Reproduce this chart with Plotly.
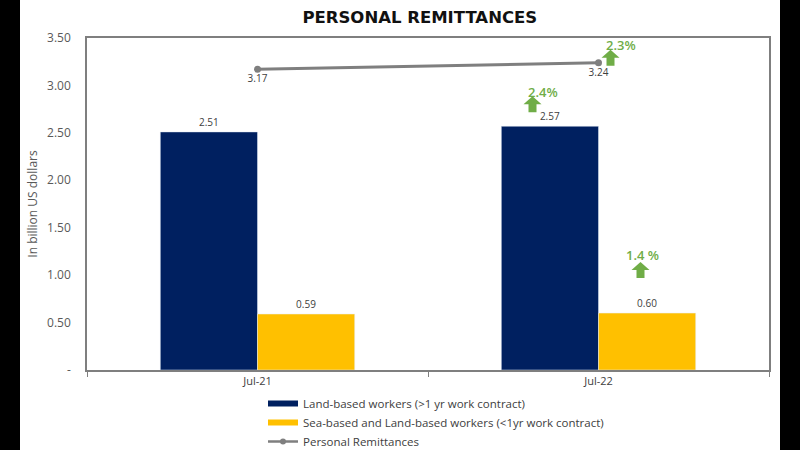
import plotly.graph_objects as go

categories = ["Jul-21", "Jul-22"]
land_based = [2.51, 2.57]
sea_based = [0.59, 0.60]
personal_remittances = [3.17, 3.24]
growth_labels = ["2.4%", "2.3%", "1.4 %"]
y_tickvals = [0, 0.5, 1.0, 1.5, 2.0, 2.5, 3.0, 3.5]
y_ticktext = ["-", "0.50", "1.00", "1.50", "2.00", "2.50", "3.00", "3.50"]
series_names = ["Land-based workers (>1 yr work contract)",
                "Sea-based and Land-based workers (<1yr work contract)",
                "Personal Remittances"]

NAVY = "#002060"
GOLD = "#FFC000"
GREY = "#7F7F7F"
GREEN = "#70AD47"
TXT = "#404040"
FONT = "Open Sans"

fig = go.Figure()
fig.add_trace(go.Bar(
    x=categories, y=land_based, name=series_names[0], showlegend=False,
    marker_color=NAVY, texttemplate="%{y:.2f}", textposition="outside",
    textfont=dict(size=10, color=TXT), cliponaxis=False))
fig.add_trace(go.Bar(
    x=categories, y=sea_based, name=series_names[1], showlegend=False,
    marker_color=GOLD, texttemplate="%{y:.2f}", textposition="outside",
    textfont=dict(size=10, color=TXT), cliponaxis=False))
fig.add_trace(go.Scatter(
    x=categories, y=personal_remittances, name=series_names[2], showlegend=False,
    mode="lines+markers+text", line=dict(color=GREY, width=3),
    marker=dict(color=GREY, size=7), texttemplate="%{y:.2f}",
    textposition="bottom center", textfont=dict(size=10, color=TXT), cliponaxis=False))

# legend entries (wide bar-style swatches like the original)
for name, col, mode in [(series_names[0], NAVY, "lines"), (series_names[1], GOLD, "lines"),
                        (series_names[2], GREY, "lines+markers")]:
    fig.add_trace(go.Scatter(x=[None], y=[None], name=name, mode=mode,
                             line=dict(color=col, width=6 if mode == "lines" else 2.5),
                             marker=dict(color=col, size=6)))

def arrow_path(cx, by):
    hw, sw, hh, sh = 9, 4, 8, 8
    pts = [(cx - sw, by), (cx + sw, by), (cx + sw, by + sh), (cx + hw, by + sh),
           (cx, by + sh + hh), (cx - hw, by + sh), (cx - sw, by + sh)]
    return "M " + " L ".join(f"{x},{y}" for x, y in pts) + " Z"

# (anchor category index, anchor value, arrow centre dx, arrow bottom dy, text dx, text dy)
anchors = [
    (1, land_based[1], -66, 14, -56, 34),
    (1, personal_remittances[1], 12, -3, 22, 18),
    (1, sea_based[1], 42, 35, 44, 58),
]

shapes = []
annotations = []
for (ci, val, adx, ady, tdx, tdy), lab in zip(anchors, growth_labels):
    shapes.append(dict(type="path", xref="x", yref="y", xsizemode="pixel", ysizemode="pixel",
                       xanchor=ci, yanchor=val, path=arrow_path(adx, ady),
                       fillcolor=GREEN, line=dict(width=0)))
    annotations.append(dict(x=categories[ci], y=val, xref="x", yref="y", text=lab,
                            showarrow=False, xshift=tdx, yshift=tdy,
                            font=dict(size=13, color=GREEN, family=FONT, weight=600)))

l, r, t, b = 87, 31, 38, 80
pw, ph = 800 - l - r, 450 - t - b
def px_to_paper_x(p):
    return (p - l) / pw
def px_to_paper_y(p):
    return (450 - b - p) / ph
for x0, x1 in [(0, 20), (780, 800)]:
    shapes.append(dict(type="rect", xref="paper", yref="paper",
                       x0=px_to_paper_x(x0), x1=px_to_paper_x(x1),
                       y0=px_to_paper_y(460), y1=px_to_paper_y(-10),
                       fillcolor="black", line=dict(width=0), layer="above"))

fig.update_layout(
    width=800, height=450,
    margin=dict(l=l, r=r, t=t, b=b, autoexpand=False),
    paper_bgcolor="white", plot_bgcolor="white",
    font=dict(family=FONT, color=TXT),
    title=dict(text="<b>PERSONAL REMITTANCES</b>", x=0.488, xref="paper", y=0.962,
               yref="container", xanchor="center", yanchor="middle",
               font=dict(size=16.5, color="#111111", family="DejaVu Sans")),
    barmode="group", bargap=0.43, bargroupgap=0,
    showlegend=True,
    legend=dict(orientation="v", x=px_to_paper_x(263), y=px_to_paper_y(389),
                xanchor="left", yanchor="top", font=dict(size=11.5, color=TXT),
                bgcolor="rgba(0,0,0,0)", tracegroupgap=0, itemwidth=30),
    shapes=shapes, annotations=annotations,
)
fig.update_xaxes(type="category", showline=True, linecolor=GREY, linewidth=1.5, mirror=True,
                 ticks="outside", tickson="boundaries", ticklen=5, tickcolor=GREY,
                 tickfont=dict(size=11, color=TXT), showgrid=False)
fig.update_yaxes(range=[0, 3.5], tickvals=y_tickvals, ticktext=y_ticktext,
                 showline=True, linecolor=GREY, linewidth=1.5, mirror=True,
                 ticks="", ticklabelstandoff=12, tickfont=dict(size=12, color="#595959"),
                 showgrid=False, zeroline=False,
                 title=dict(text="In billion US dollars", font=dict(size=12, color="#595959"),
                            standoff=7))

fig.write_html("out.html", config={"displayModeBar": False},
               post_script="document.body.style.margin='0';")
